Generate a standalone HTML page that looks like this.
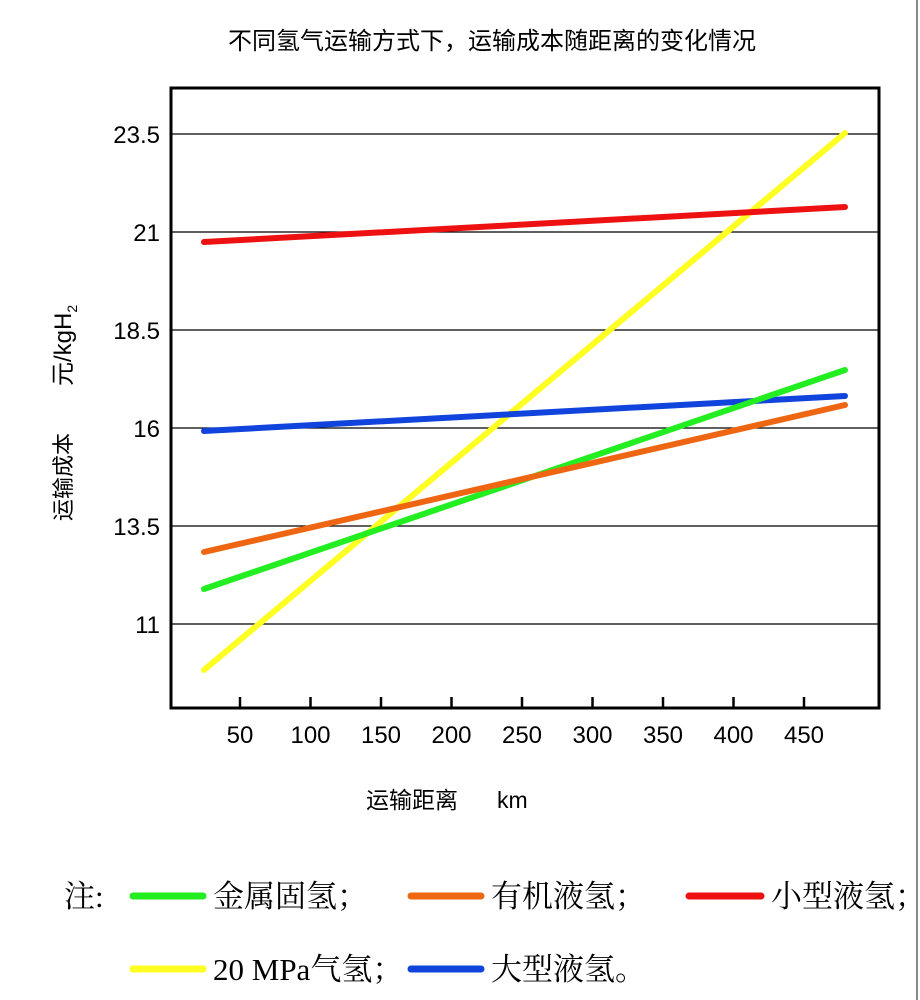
<!DOCTYPE html>
<html><head><meta charset="utf-8"><style>
html,body{margin:0;padding:0;background:#fff;}
svg{display:block;}
.s{font-family:"Liberation Sans","Noto Sans CJK SC",sans-serif;}
.f{font-family:"Liberation Serif","Noto Serif CJK SC",serif;}
</style></head><body>
<svg width="920" height="1000" xmlns="http://www.w3.org/2000/svg">
<rect width="920" height="1000" fill="#fff"/>
<line x1="917" y1="0" x2="917" y2="1000" stroke="#888" stroke-width="2"/>
<text class="s" x="492" y="49" font-size="24" text-anchor="middle" fill="#000">不同氢气运输方式下，运输成本随距离的变化情况</text>
<g stroke="#000" stroke-width="1.3">
<line x1="171" y1="134" x2="879" y2="134"/>
<line x1="171" y1="232" x2="879" y2="232"/>
<line x1="171" y1="330" x2="879" y2="330"/>
<line x1="171" y1="428" x2="879" y2="428"/>
<line x1="171" y1="526" x2="879" y2="526"/>
<line x1="171" y1="624" x2="879" y2="624"/>
</g>
<rect x="171" y="88" width="708" height="620" fill="none" stroke="#000" stroke-width="3"/>
<g stroke="#000" stroke-width="2.5">
<line x1="240" y1="697" x2="240" y2="708"/><line x1="310.5" y1="697" x2="310.5" y2="708"/>
<line x1="381" y1="697" x2="381" y2="708"/><line x1="451.5" y1="697" x2="451.5" y2="708"/>
<line x1="522" y1="697" x2="522" y2="708"/><line x1="592.5" y1="697" x2="592.5" y2="708"/>
<line x1="663" y1="697" x2="663" y2="708"/><line x1="733.5" y1="697" x2="733.5" y2="708"/>
<line x1="804" y1="697" x2="804" y2="708"/>
</g>
<g class="s" font-size="24" fill="#000" text-anchor="end">
<text x="160" y="143">23.5</text><text x="160" y="241">21</text><text x="160" y="339">18.5</text>
<text x="160" y="437">16</text><text x="160" y="535">13.5</text><text x="160" y="633">11</text>
</g>
<g class="s" font-size="24" fill="#000" text-anchor="middle">
<text x="240" y="743">50</text><text x="310.5" y="743">100</text><text x="381" y="743">150</text>
<text x="451.5" y="743">200</text><text x="522" y="743">250</text><text x="592.5" y="743">300</text>
<text x="663" y="743">350</text><text x="733.5" y="743">400</text><text x="804" y="743">450</text>
</g>
<text class="s" x="366" y="808" font-size="23" fill="#000">运输距离</text>
<text class="s" x="497" y="808" font-size="23" fill="#000">km</text>
<g transform="translate(71,521) rotate(-90)">
<text class="s" x="0" y="0" font-size="22" fill="#000">运输成本</text>
<text class="s" x="135" y="0" font-size="24" fill="#000">元/kgH<tspan font-size="14" dy="6">2</tspan></text>
</g>
<g stroke-width="6" stroke-linecap="round">
<line x1="204" y1="670" x2="845" y2="133" stroke="#ffff22"/>
<line x1="204" y1="242" x2="845" y2="207" stroke="#ee1111"/>
<line x1="204" y1="431" x2="845" y2="396" stroke="#1144dd"/>
<line x1="204" y1="589" x2="845" y2="370" stroke="#22ee22"/>
<line x1="204" y1="552" x2="845" y2="405" stroke="#ee6611"/>
</g>
<g stroke-width="7" stroke-linecap="round">
<line x1="133" y1="896" x2="203" y2="896" stroke="#22ee22"/>
<line x1="411" y1="896" x2="481" y2="896" stroke="#ee6611"/>
<line x1="689" y1="896" x2="761" y2="896" stroke="#ee1111"/>
<line x1="133" y1="969" x2="203" y2="969" stroke="#ffff22"/>
<line x1="411" y1="969" x2="481" y2="969" stroke="#1144dd"/>
</g>
<g class="f" font-size="31" fill="#000">
<text x="64" y="907">注:</text>
<text x="213" y="907">金属固氢；</text>
<text x="491" y="907">有机液氢；</text>
<text x="771" y="907">小型液氢；</text>
<text x="213" y="980">20 MPa气氢；</text>
<text x="491" y="980">大型液氢。</text>
</g>
</svg>
</body></html>
